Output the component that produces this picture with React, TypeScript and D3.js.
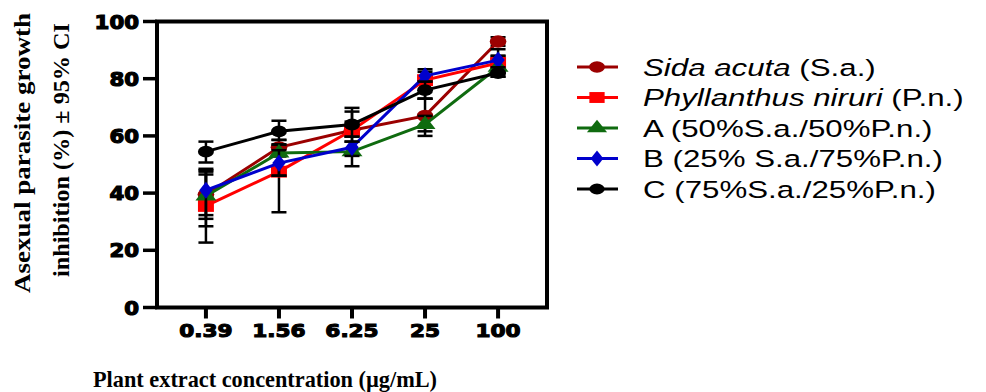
import { useEffect, useRef } from 'react';
import * as d3 from 'd3';

// concentrations on the x axis (µg/mL)
const concentrations = ['0.39', '1.56', '6.25', '25', '100'];
const yTicks = [0, 20, 40, 60, 80, 100];

// mean inhibition (%) and 95% CI bounds, one array per series
const sidaMean = [39.5, 56, 62, 67, 93];
const sidaLow = [32.3, 52.8, 59.8, 61.6, 91.5];
const sidaHigh = [46.5, 58.6, 68.5, 73, 94.5];

const phylMean = [35.5, 47.5, 62, 79.5, 85.5];
const phylLow = [22.7, 33.3, 59.8, 73, 82];
const phylHigh = [48, 57, 65, 82.4, 88];

const mixAMean = [39, 54, 54.5, 64, 84];
const mixALow = [28.4, 46.1, 49.4, 60, 80.7];
const mixAHigh = [47.5, 57, 59.8, 67, 88];

const mixBMean = [41, 50.5, 56, 81, 86.5];
const mixBLow = [31, 46.1, 53, 79, 82];
const mixBHigh = [48.5, 55, 58, 83.3, 90.3];

const mixCMean = [54.5, 61.6, 64, 76, 82];
const mixCLow = [50.7, 58.6, 58, 73, 80.7];
const mixCHigh = [58, 65.3, 69.8, 79, 84];

const seriesNames = [
  { italic: 'Sida acuta', rest: ' (S.a.)' },
  { italic: 'Phyllanthus niruri', rest: ' (P.n.)' },
  { italic: '', rest: 'A (50%S.a./50%P.n.)' },
  { italic: '', rest: 'B (25% S.a./75%P.n.)' },
  { italic: '', rest: 'C (75%S.a./25%P.n.)' },
];

export default function App() {
  const svgRef = useRef<SVGSVGElement>(null);

  useEffect(() => {
    const svg = d3.select(svgRef.current);
    svg.selectAll('*').remove();

    const left = 157, right = 547, top = 21.5, bottom = 307.5;

    const x = d3.scalePoint<string>().domain(concentrations).range([left, right]).padding(0.67);
    const y = d3.scaleLinear().domain([0, 100]).range([bottom, top]);

    const series = [
      { mean: sidaMean, lo: sidaLow, hi: sidaHigh, color: '#9b0000', shape: d3.symbolCircle, size: 120 },
      { mean: phylMean, lo: phylLow, hi: phylHigh, color: '#ff0000', shape: d3.symbolSquare, size: 140 },
      { mean: mixAMean, lo: mixALow, hi: mixAHigh, color: '#0f6b0f', shape: d3.symbolTriangle, size: 105 },
      { mean: mixBMean, lo: mixBLow, hi: mixBHigh, color: '#0000cc', shape: d3.symbolDiamond, size: 85 },
      { mean: mixCMean, lo: mixCLow, hi: mixCHigh, color: '#000000', shape: d3.symbolCircle, size: 110 },
    ];

    const g = svg.append('g');

    // series: error bars, line, markers
    series.forEach((s) => {
      const sg = g.append('g');
      concentrations.forEach((c, i) => {
        const cx = x(c)!;
        sg.append('line')
          .attr('x1', cx).attr('x2', cx)
          .attr('y1', y(s.lo[i])).attr('y2', y(s.hi[i]))
          .attr('stroke', '#000').attr('stroke-width', 2.5);
        [s.lo[i], s.hi[i]].forEach((v) => {
          sg.append('line')
            .attr('x1', cx - 7.5).attr('x2', cx + 7.5)
            .attr('y1', y(v)).attr('y2', y(v))
            .attr('stroke', '#000').attr('stroke-width', 2.5);
        });
      });

      const line = d3.line<number>()
        .x((_, i) => x(concentrations[i])!)
        .y((d) => y(d));
      sg.append('path')
        .datum(s.mean)
        .attr('fill', 'none')
        .attr('stroke', s.color)
        .attr('stroke-width', 3)
        .attr('d', line);

      sg.selectAll('.pt')
        .data(s.mean)
        .join('path')
        .attr('transform', (d, i) => `translate(${x(concentrations[i])},${y(d)}) scale(1.35,1)`)
        .attr('d', d3.symbol().type(s.shape).size(s.size)()!)
        .attr('fill', s.color);
    });

    // frame
    g.append('rect')
      .attr('x', left).attr('y', top)
      .attr('width', right - left).attr('height', bottom - top)
      .attr('fill', 'none').attr('stroke', '#000').attr('stroke-width', 4);

    // y ticks
    yTicks.forEach((t) => {
      g.append('line')
        .attr('x1', left - 14).attr('x2', left)
        .attr('y1', y(t)).attr('y2', y(t))
        .attr('stroke', '#000').attr('stroke-width', 3.5);
      g.append('text')
        .attr('transform', `translate(139,${y(t) + 7}) scale(1.12,1)`)
        .attr('text-anchor', 'end')
        .attr('font-family', 'DejaVu Sans')
        .attr('font-weight', 'bold')
        .attr('font-size', 19)
        .attr('stroke', '#000').attr('stroke-width', 1.2)
        .text(t);
    });

    // x ticks
    concentrations.forEach((c) => {
      g.append('line')
        .attr('x1', x(c)!).attr('x2', x(c)!)
        .attr('y1', bottom).attr('y2', bottom + 11)
        .attr('stroke', '#000').attr('stroke-width', 4);
      g.append('text')
        .attr('transform', `translate(${x(c)},337) scale(1.2,1)`)
        .attr('text-anchor', 'middle')
        .attr('font-family', 'DejaVu Sans')
        .attr('font-weight', 'bold')
        .attr('font-size', 18)
        .attr('stroke', '#000').attr('stroke-width', 1.1)
        .text(c);
    });

    // axis titles
    g.append('text')
      .attr('x', 93).attr('y', 387)
      .attr('font-family', 'Liberation Serif')
      .attr('font-weight', 'bold')
      .attr('font-size', 24)
      .attr('textLength', 344)
      .attr('lengthAdjust', 'spacingAndGlyphs')
      .text('Plant extract concentration (µg/mL)');

    const yTitle = [
      { text: 'Asexual parasite growth', base: 30, len: 280, cy: 153 },
      { text: 'inhibition (%) ± 95% CI', base: 68.5, len: 254, cy: 150 },
    ];
    yTitle.forEach((t) => {
      g.append('text')
        .attr('transform', `translate(${t.base},${t.cy}) rotate(-90)`)
        .attr('x', -t.len / 2)
        .attr('font-family', 'Liberation Serif')
        .attr('font-weight', 'bold')
        .attr('font-size', 24)
        .attr('textLength', t.len)
        .attr('lengthAdjust', 'spacingAndGlyphs')
        .text(t.text);
    });

    // legend
    const legendY = d3.scalePoint<number>().domain([0, 1, 2, 3, 4]).range([67, 189]);
    series.forEach((s, i) => {
      const ly = legendY(i)!;
      const lg = g.append('g');
      lg.append('line')
        .attr('x1', 577).attr('x2', 618)
        .attr('y1', ly).attr('y2', ly)
        .attr('stroke', s.color).attr('stroke-width', 3);
      lg.append('path')
        .attr('transform', `translate(597,${ly}) scale(1.4,1)`)
        .attr('d', d3.symbol().type(s.shape).size(s.size * 0.85)()!)
        .attr('fill', s.color);
      const txt = lg.append('text')
        .attr('transform', `translate(643,${ly + 8.5}) scale(1.33,1)`)
        .attr('font-family', 'Liberation Sans')
        .attr('font-size', 23.5);
      if (seriesNames[i].italic) {
        txt.append('tspan').attr('font-style', 'italic').text(seriesNames[i].italic);
      }
      txt.append('tspan').text(seriesNames[i].rest);
    });
  }, []);

  return (
    <svg
      ref={svgRef}
      width={986}
      height={392}
      style={{ position: 'absolute', left: 0, top: 0, background: '#fff' }}
    />
  );
}
